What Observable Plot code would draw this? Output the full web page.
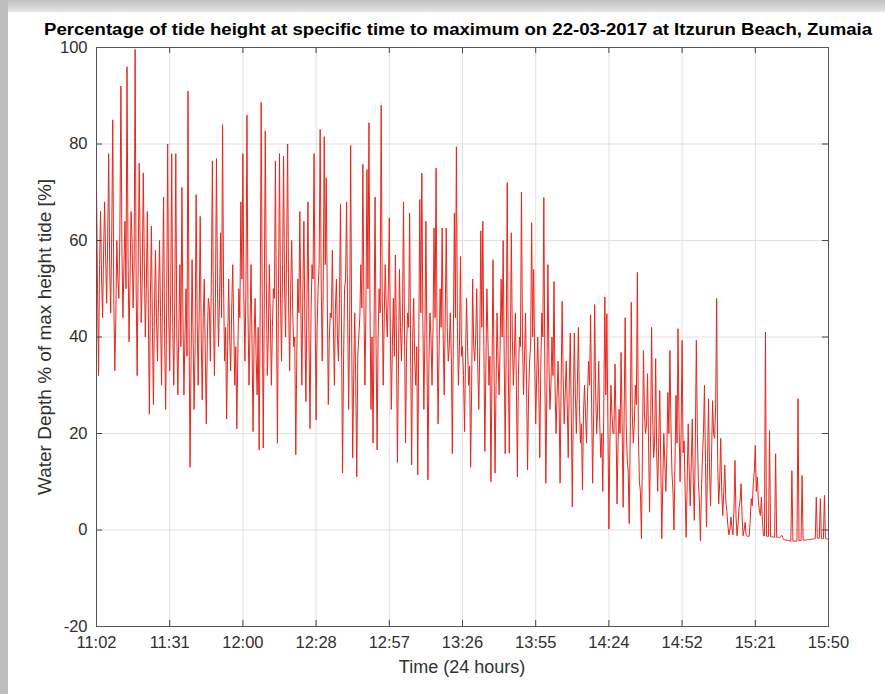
<!DOCTYPE html>
<html><head><meta charset="utf-8">
<script src="https://cdn.jsdelivr.net/npm/d3@7"></script>
<script src="https://cdn.jsdelivr.net/npm/@observablehq/plot@0.6"></script>
<style>
html,body{margin:0;padding:0;background:#fff;}
#wrap{position:relative;width:885px;height:694px;overflow:hidden;background:#fff;}
#topbar{position:absolute;left:0;top:0;width:885px;height:12px;background:linear-gradient(#c2c2c2,#e4e4e4);}
#leftbar{position:absolute;left:0;top:0;width:8px;height:694px;background:#bdbdbd;}
#chart{position:absolute;left:0;top:0;}
</style></head><body>
<div id="wrap"><div id="chart"></div><div id="topbar"></div><div id="leftbar"></div></div>
<script>
const titleText = "Percentage of tide height at specific time to maximum on 22-03-2017 at Itzurun Beach, Zumaia";
const xLabelText = "Time (24 hours)";
const yLabelText = "Water Depth % of max height tide [%]";
const timeTickLabels = ["11:02","11:31","12:00","12:28","12:57","13:26","13:55","14:24","14:52","15:21","15:50"];
const totalMinutes = 288; // 11:02 -> 15:50
const yTicks = [-20, 0, 20, 40, 60, 80, 100];
const sampleStepMinutes = 0.4;
// water depth (% of max tide height), one reading every 0.4 min from 11:02
const depth = [
 72,50,32,55,66,52,44,58,68,56,47,60,78,54,45,62,85,48,33,44,
 60,52,48,62,92,58,44,55,64,50,96,57,39,52,66,60,46,55,99.6,50,
 32,55,76,58,43,52,74,56,40,50,66,45,24,48,63,42,26,46,58,44,
 35,48,60,44,30,50,69,40,25,46,80,45,33,50,78,42,30,48,78,40,
 28,42,55,38,71,45,28,40,50,36,91,42,13,35,56,40,25,38,69.5,44,
 30,45,65,40,27,44,52,36,22,40,48,46,35,52,76.5,45,32,48,77,50,
 38,48,61.6,44,84,50,35,42,23,38,52,40,33,46,55,42,30,38,21,36,
 50,44,68,52,78,48,35,50,86,45,30,42,55,38,20.4,40,48,36,28,42,
 16.6,45,88.6,50,17,46,82.7,52,32,40,55,44,30,42,50,48,76.5,45,18,50,
 78,48,35,55,77.5,50,40,58,80,46,33,50,60,45,38,40,15.6,36,52,45,
 66,46,30,50,64,42,26.6,48,68,40,21,45,55,52,78,46,22.8,42,50,55,
 83,52,35,50,81.5,55,73,48,26,40,45,44,58,42,30,46,52,40,35,48,
 67.5,40,11.8,35,50,52,68,45,25,42,79.7,40,14.9,32,45,30,11,36,40,44,
 55,46,75.8,48,30,45,74.7,50,84.4,46,25,40,18,42,69,38,16.6,40,50,45,
 88,50,30,44,55,46,40,50,64.7,42,25,38,48,36,57,40,14,34,54,42,
 35,45,68,40,18,38,45,42,65.7,36,13.5,40,48,35,30,38,11.4,40,68.5,45,
 74,44,25,40,64,38,10.4,35,45,40,30,42,62.6,44,75,40,22,38,50,42,
 62.6,40,28,44,62.6,42,35,38,45,36,15.8,40,65.7,44,79.4,42,30,38,56.7,36,
 38,32,20.4,36,48,38,30,34,13,30,52,38,35,40,50,34,25,38,62,42,
 64,38,16.3,34,50,40,30,36,10,32,56,34,11.8,30,45,35,28,38,52,40,
 60,36,15.8,38,72,34,15.9,36,61.6,40,30,36,45,30,11,32,40,38,70,40,
 28,36,45,30,12.5,28,35,38,63.7,40,54,35,22,32,40,30,15,34,45,40,
 68.9,32,9.7,30,55,35,25,30,40,32,51.5,30,20,28,35,26,9.7,30,47.4,32,
 22,28,35,26,15,30,40.8,24,4.8,26,40.8,28,20,30,42,26,18,22,8.3,24,
 30,24,18,28,35,30,44.6,26,9.7,24,46.7,28,20,26,35,22,15,20,8,26,
 48.3,28,44.8,22,0.2,18,30,24,20,20,34.4,22,5.4,18,25,20,36.8,22,4.7,24,
 44,22,15,12,1.3,20,47.2,24,18,22,30,26,53.4,20,10,8,-1.8,16,37.2,24,
 20,22,32.4,18,3.7,20,42,24,15,18,35.5,16,8,18,28.9,14,-1.8,10,20,14,
 8,16,28.5,20,37.2,22,12,8,0,14,27.9,18,41.7,22,10,20,39.3,16,18.5,8,
 -1.5,10,22,12,5,14,23,10,2,18,39.3,20,10,6,-2.2,8,15,20,30,14,
 0.6,14,27.2,12,5,16,26.8,20,19,26,48,14,5.4,10,19,8,3,8,13.4,6,
 4,1,-1,0,2.7,0.5,-1,4,14.4,3,-1.2,1,4.7,6,9.6,3,-1.2,0,1.6,-1,
 -1.3,-1.3,-1.3,2,6.5,5,9.6,12,17.5,8,11,6,4,3,6.8,2,-1.2,-1.2,41,-1.3,
 -1.3,-1.3,20.6,-1.4,-1.4,-1.4,-1.5,-1.5,15.8,-1.5,-1.5,-1.5,-1.6,-1.4,-1.1,-1.6,-2,-2,-2.1,-2.1,
 -2.2,-2.2,-2.3,-2.3,12.3,-2.3,-2.3,-2.3,-2.3,-2.3,27.2,-2.2,-2.2,-2.2,11.3,-2.1,-2.1,-2.1,-2.1,-2.0,
 -2.0,-2.0,-2.0,-1.9,-1.9,-1.9,-1.8,-1.8,6.8,-1.7,-1.7,-1.7,6.5,-1.8,-1.8,-1.8,7.2,-1.8,-1.8,-1.9,
 -1.9
];

const data = depth.map((v, i) => ({t: i * sampleStepMinutes, v}));
const W = 885, H = 694, mL = 96, mR = 57, mT = 47, mB = 68;
const iw = W - mL - mR, ih = H - mT - mB;
const tickStep = totalMinutes / (timeTickLabels.length - 1);
const xTicks = timeTickLabels.map((_, i) => i * tickStep);
const axisColor = "#303030";
const font = "'Liberation Sans', Arial, Helvetica, sans-serif";

const plot = Plot.plot({
  width: W, height: H,
  marginLeft: mL, marginRight: mR, marginTop: mT, marginBottom: mB,
  style: {fontFamily: font, fontSize: "16.5px", color: axisColor, background: "transparent"},
  x: {domain: [0, totalMinutes]},
  y: {domain: [-20, 100]},
  marks: [
    Plot.gridX(xTicks, {stroke: "#e0e0e0", strokeOpacity: 1}),
    Plot.gridY(yTicks, {stroke: "#e0e0e0", strokeOpacity: 1}),
    Plot.line(data, {x: "t", y: "v", stroke: "#e8261c", strokeWidth: 1}),
    Plot.tickX(xTicks, {x: d => d, insetTop: ih - 6, stroke: "#444"}),
    Plot.tickX(xTicks, {x: d => d, insetBottom: ih - 6, stroke: "#444"}),
    Plot.tickY(yTicks, {y: d => d, insetRight: iw - 6, stroke: "#444"}),
    Plot.tickY(yTicks, {y: d => d, insetLeft: iw - 6, stroke: "#444"}),
    Plot.frame({stroke: "#555"}),
    Plot.axisX(xTicks, {tickSize: 0, tickPadding: 10, fontSize: 16.5, label: null,
      tickFormat: d => timeTickLabels[Math.round(d / tickStep)]}),
    Plot.axisY(yTicks, {tickSize: 0, tickPadding: 9, fontSize: 16.5, label: null,
      tickFormat: d => String(d)})
  ]
});

const svg = d3.select(plot);
svg.append("text")
  .attr("x", 458).attr("y", 35)
  .attr("text-anchor", "middle")
  .attr("font-family", font).attr("font-weight", "bold").attr("font-size", 16)
  .attr("fill", "#000")
  .attr("textLength", 828).attr("lengthAdjust", "spacingAndGlyphs")
  .text(titleText);
svg.append("text")
  .attr("transform", "translate(51,337) rotate(-90)")
  .attr("text-anchor", "middle")
  .attr("font-family", font).attr("font-size", 19)
  .attr("fill", axisColor)
  .text(yLabelText);
svg.append("text")
  .attr("x", 462).attr("y", 673)
  .attr("text-anchor", "middle")
  .attr("font-family", font).attr("font-size", 18)
  .attr("fill", axisColor)
  .text(xLabelText);

document.getElementById("chart").appendChild(plot);
</script>
</body></html>
